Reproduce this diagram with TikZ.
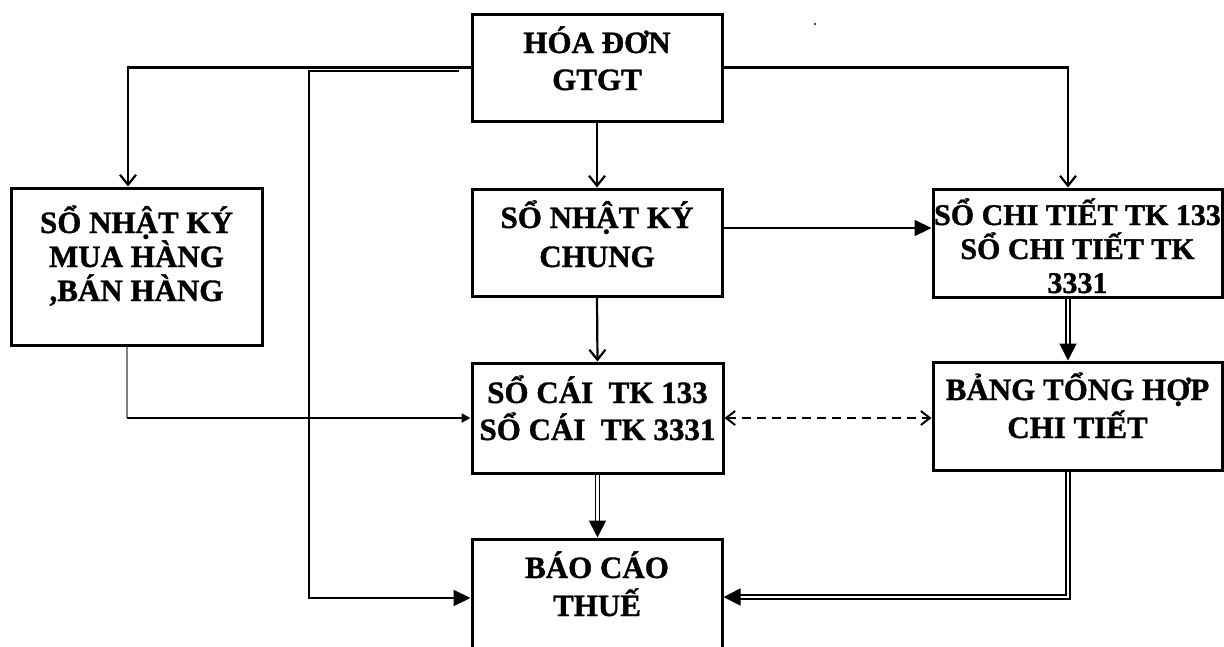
\documentclass[tikz,border=0pt]{standalone}
\usepackage{fontspec}
\setmainfont{Liberation Serif}[BoldFeatures={FakeBold=1.2}]
\usetikzlibrary{arrows.meta}
\begin{document}
\begin{tikzpicture}[x=1pt,y=-1pt,
  box/.style={draw, line width=3pt, rectangle, inner sep=0pt},
  lbl/.style={anchor=base, inner sep=0pt, font=\fontsize{31}{#1}\selectfont\bfseries},
  lbl/.default=36,
  conn/.style={line width=2.2pt},
  openhead/.style={-{Straight Barb[length=10pt,width=16pt,line width=2.2pt]}},
  fillhead/.style={-{Triangle[length=17pt,width=16pt]}},
  smallhead/.style={-{Triangle[length=9pt,width=9pt]}},
  dashhead/.style={{Straight Barb[length=9pt,width=14pt,line width=2pt]}-{Straight Barb[length=9pt,width=14pt,line width=2pt]}},
  dbl/.style={double, line width=1.6pt, double distance=2.6pt},
  dblhead/.style={-{Triangle[length=17pt,width=17pt]}}
]
\useasboundingbox (0,0) rectangle (1224,646);

% boxes
\node[box, minimum width=250pt, minimum height=107pt] (hoa) at (597,67.5) {};
\node[box, minimum width=251pt, minimum height=157pt] (nkmb) at (136.5,266.5) {};
\node[box, minimum width=250pt, minimum height=107pt] (nkc) at (597,242.5) {};
\node[box, minimum width=289pt, minimum height=108pt] (ct) at (1077.5,243) {};
\node[box, minimum width=251pt, minimum height=110pt] (sc) at (597.5,418) {};
\node[box, minimum width=289pt, minimum height=108pt] (bth) at (1077.5,416) {};
\node[box, minimum width=250pt, minimum height=161pt] (bc) at (597,619.5) {};

% texts
\node[lbl=37] (hoaT) at (597,53) {\parbox[t]{300pt}{\centering HÓA ĐƠN\\GTGT}};
\node[lbl=34] (nkmbT) at (136.5,233) {\parbox[t]{300pt}{\centering SỔ NHẬT KÝ\\MUA HÀNG\\,BÁN HÀNG}};
\node[lbl=39] (nkcT) at (597,228) {\parbox[t]{300pt}{\centering SỔ NHẬT KÝ\\CHUNG}};
\node[lbl=34, font=\fontsize{30}{34}\selectfont\bfseries] (ctT) at (1077.5,225) {\parbox[t]{320pt}{\centering SỔ CHI TIẾT TK 133\\SỔ CHI TIẾT TK\\3331}};
\node[lbl=37] (scT) at (597.5,403) {\parbox[t]{300pt}{\centering SỔ CÁI~ TK 133\\SỔ CÁI~ TK 3331}};
\node[lbl=38] (bthT) at (1077.5,400) {\parbox[t]{320pt}{\centering BẢNG TỔNG HỢP\\CHI TIẾT}};
\node[lbl=38] (bcT) at (597,578) {\parbox[t]{300pt}{\centering BÁO CÁO\\THUẾ}};

% helper coordinates
\coordinate (tl) at (128,67);
\coordinate (tr) at (1068,67);
\coordinate (lstart) at (459,71);
\coordinate (lcorner) at (309,71);
\coordinate (yA) at (0,228);
\coordinate (yB) at (0,598);
\coordinate (yC) at (0,597);
\coordinate (gl) at (127,418);

% connectors
\draw[conn, openhead] (hoa.west) -- (hoa.west -| tl) -- (tl |- nkmb.north);
\draw[conn, openhead] (hoa.east) -| (tr |- ct.north);
\draw[conn, openhead] (hoa.south) -- (nkc.north);
\draw[conn, openhead] (nkc.south) -- (sc.north);
\draw[conn, fillhead] (nkc.east |- yA) -- (ct.west |- yA);
\draw[conn, line width=2pt, dash pattern=on 9pt off 6pt, dashhead] (sc.east) -- (bth.west |- sc.east);
\draw[conn, fillhead] (lstart) -- (lcorner) |- (bc.west |- yB);
\draw[gray, line width=1.2pt] (nkmb.south -| gl) -- (gl);
\draw[conn, smallhead] (gl) -- (sc.west |- gl);
\draw[dbl, dblhead] (tr |- ct.south) -- (tr |- bth.north);
\draw[dbl, dblhead] (sc.south) -- (sc.south |- bc.north);
\draw[dbl, dblhead] (tr |- bth.south) |- (bc.east |- yC);

% stray dot
\fill (815,24) circle (1.2pt);
\end{tikzpicture}
\end{document}
